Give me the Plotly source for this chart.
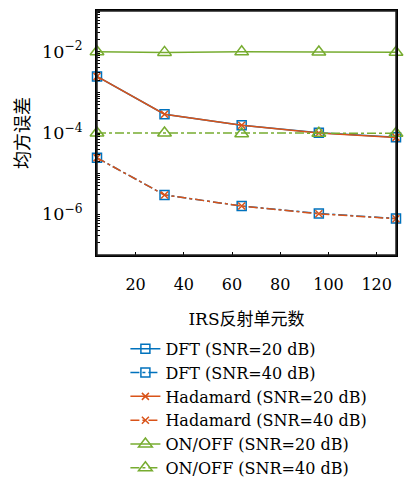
import plotly.graph_objects as go

x_elems = [4, 32, 64, 96, 128]
dft_20 = [2.45e-3, 2.9e-4, 1.55e-4, 1.02e-4, 7.9e-5]
dft_40 = [2.45e-5, 3.0e-6, 1.6e-6, 1.05e-6, 7.9e-7]
had_20 = [2.45e-3, 2.9e-4, 1.55e-4, 1.0e-4, 7.8e-5]
had_40 = [2.45e-5, 3.0e-6, 1.6e-6, 1.03e-6, 7.8e-7]
onoff_20 = [1.0e-2, 9.6e-3, 9.9e-3, 9.8e-3, 9.7e-3]
onoff_40 = [1.0e-4, 1.0e-4, 9.6e-5, 9.9e-5, 9.9e-5]
names = ["DFT (SNR=20 dB)", "DFT (SNR=40 dB)", "Hadamard (SNR=20 dB)",
         "Hadamard (SNR=40 dB)", "ON/OFF (SNR=20 dB)", "ON/OFF (SNR=40 dB)"]
x_ticks = [20, 40, 60, 80, 100, 120]

BLUE = "#0072BD"
ORANGE = "#D95319"
GREEN = "#77AC30"
FONT = "DejaVu Serif, Noto Sans CJK SC, serif"

series = [
    (dft_20, names[0], BLUE, "solid", "square-open", 9),
    (dft_40, names[1], BLUE, "dashdot", "square-open", 9),
    (had_20, names[2], ORANGE, "solid", "x-thin-open", 7),
    (had_40, names[3], ORANGE, "dashdot", "x-thin-open", 7),
    (onoff_20, names[4], GREEN, "solid", "triangle-up-open", 12),
    (onoff_40, names[5], GREEN, "dashdot", "triangle-up-open", 12),
]

fig = go.Figure()
for ys, nm, col, dash, sym, sz in series:
    fig.add_trace(go.Scatter(
        x=x_elems, y=ys, name=nm, mode="lines+markers",
        line=dict(color=col, width=1.5, dash=dash),
        marker=dict(symbol=sym, size=sz, color=col, line=dict(color=col, width=1.5)),
        cliponaxis=False,
    ))

fig.add_shape(type="rect", xref="x domain", yref="y domain",
              x0=0, x1=1, y0=0, y1=1, layer="above",
              line=dict(color="#222222", width=1.5),
              fillcolor="rgba(0,0,0,0)")

fig.update_layout(
    width=407, height=494,
    margin=dict(l=97, r=9, t=9, b=229),
    paper_bgcolor="white", plot_bgcolor="white",
    font=dict(family=FONT, size=16, color="black"),
    showlegend=True,
    legend=dict(x=0.095, y=-0.315, xanchor="left", yanchor="top",
                font=dict(family=FONT, size=16), tracegroupgap=0,
                bgcolor="rgba(0,0,0,0)", itemwidth=30),
)
fig.update_xaxes(
    range=[4, 128], tickvals=x_ticks, ticks="outside", ticklen=14,
    tickcolor="rgba(0,0,0,0)", showline=True, linecolor="black", linewidth=1.5,
    mirror=True, showgrid=False, zeroline=False,
    minor=dict(ticks="inside", ticklen=3, tickcolor="black", tickvals=x_ticks, showgrid=False),
    tickfont=dict(family=FONT, size=16),
    title=dict(text="IRS反射单元数", font=dict(family=FONT, size=17), standoff=20),
)
fig.update_yaxes(
    type="log", range=[-7, -1], dtick=2, exponentformat="power",
    ticks="outside", ticklen=10, tickcolor="rgba(0,0,0,0)",
    showline=True, linecolor="black", linewidth=1.5, mirror=True,
    showgrid=False, zeroline=False,
    minor=dict(ticks="inside", ticklen=3, tickcolor="black", dtick="D1", showgrid=False),
    tickfont=dict(family=FONT, size=14),
    title=dict(text="均方误差", font=dict(family=FONT, size=18), standoff=8),
)

fig.write_html("out.html")
